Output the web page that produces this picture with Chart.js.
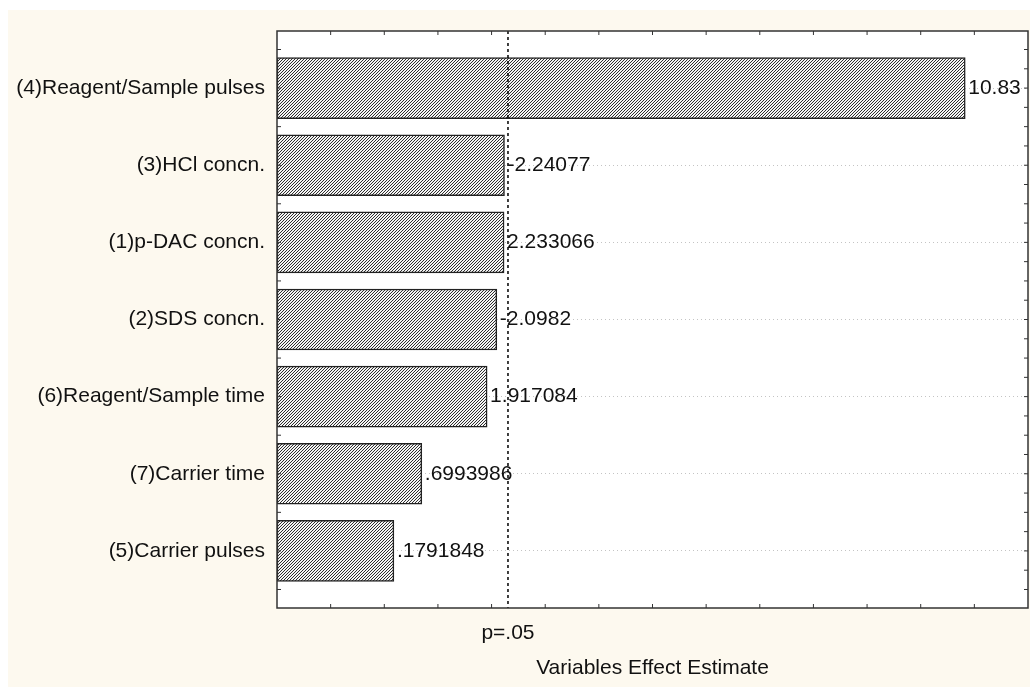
<!DOCTYPE html>
<html>
<head>
<meta charset="utf-8">
<script src="https://cdn.jsdelivr.net/npm/chart.js@4.4.0/dist/chart.umd.min.js"></script>
<style>
  html, body { margin: 0; padding: 0; background: #fff; }
  #wrap { width: 1030px; height: 687px; }
</style>
</head>
<body>
<div id="wrap"><canvas id="pareto" width="1030" height="687"></canvas></div>
<script>
// effects, sorted as in the Pareto chart
const factors = ['(4)Reagent/Sample pulses', '(3)HCl concn.', '(1)p-DAC concn.', '(2)SDS concn.',
                 '(6)Reagent/Sample time', '(7)Carrier time', '(5)Carrier pulses'];
const effects = [10.83, -2.24077, 2.233066, -2.0982, 1.917084, 0.6993986, 0.1791848];
const effectLabels = ['10.83', '-2.24077', '2.233066', '-2.0982', '1.917084', '.6993986', '.1791848'];
const pCrit = 2.306;      // p=.05 line
const xMin = -2;
const xMax = 12;

const FONT = "'Liberation Sans', Arial, sans-serif";
const FSIZE = 21;

// hatch pattern for the bars
function makeHatch() {
    const c = document.createElement('canvas');
    c.width = 3; c.height = 3;
    const g = c.getContext('2d');
    g.fillStyle = '#f4f4f4';
    g.fillRect(0, 0, 3, 3);
    g.strokeStyle = '#2e2e2e';
    g.lineWidth = 1;
    g.beginPath();
    g.moveTo(0, 3); g.lineTo(3, 0);
    g.moveTo(-1, 1); g.lineTo(1, -1);
    g.moveTo(2, 4); g.lineTo(4, 2);
    g.stroke();
    return g.createPattern(c, 'repeat');
}

const frame = {
    id: 'frame',
    beforeDraw(chart) {
        const { ctx, chartArea: a } = chart;
        ctx.save();
        ctx.fillStyle = '#fdf9ef';
        ctx.fillRect(8, 10, chart.width - 8, chart.height - 10);
        ctx.fillStyle = '#ffffff';
        ctx.fillRect(a.left, a.top, a.right - a.left, a.bottom - a.top);
        ctx.restore();
    },
    afterDatasetsDraw(chart) {
        const { ctx, chartArea: a } = chart;
        const xs = chart.scales.x, ys = chart.scales.y;
        ctx.save();

        // value labels at bar ends
        ctx.font = FSIZE + 'px ' + FONT;
        ctx.fillStyle = '#111';
        ctx.textBaseline = 'middle';
        ctx.textAlign = 'left';
        effects.forEach((v, i) => {
            ctx.fillText(effectLabels[i], xs.getPixelForValue(Math.abs(v)) + 3, ys.getPixelForValue(i));
        });

        // p=.05 dashed line
        const px = xs.getPixelForValue(pCrit);
        ctx.strokeStyle = '#000';
        ctx.lineWidth = 1.5;
        ctx.setLineDash([3, 3]);
        ctx.beginPath();
        ctx.moveTo(px, a.top);
        ctx.lineTo(px, a.bottom);
        ctx.stroke();
        ctx.setLineDash([]);

        // plot frame
        ctx.strokeStyle = '#333';
        ctx.lineWidth = 1.5;
        ctx.strokeRect(a.left, a.top, a.right - a.left, a.bottom - a.top);

        // inward ticks
        ctx.lineWidth = 1;
        ctx.beginPath();
        for (let v = Math.ceil(xMin) + 1; v < xMax; v++) {
            const x = xs.getPixelForValue(v);
            ctx.moveTo(x, a.top); ctx.lineTo(x, a.top + 4);
            ctx.moveTo(x, a.bottom); ctx.lineTo(x, a.bottom - 4);
        }
        for (let v = -0.5; v <= factors.length - 0.5; v += 0.5) {
            const y = ys.getPixelForValue(v);
            ctx.moveTo(a.left, y); ctx.lineTo(a.left + 4, y);
        }
        for (let v = -0.5; v <= factors.length - 0.5; v += 0.25) {
            const y = ys.getPixelForValue(v);
            ctx.moveTo(a.right, y); ctx.lineTo(a.right - 4, y);
        }
        ctx.stroke();

        // axis texts
        ctx.font = FSIZE + 'px ' + FONT;
        ctx.fillStyle = '#111';
        ctx.textAlign = 'center';
        ctx.fillText('p=.05', px, a.bottom + 25);
        ctx.fillText('Variables Effect Estimate', (a.left + a.right) / 2, a.bottom + 60);
        ctx.restore();
    }
};

const ctx = document.getElementById('pareto').getContext('2d');
new Chart(ctx, {
    type: 'bar',
    data: {
        datasets: [{
            data: effects.map((v, i) => ({ y: i, x: [xMin, Math.abs(v)] })),
            backgroundColor: makeHatch(),
            borderColor: '#222',
            borderWidth: 1.5,
            borderSkipped: false,
            barThickness: 61
        }]
    },
    options: {
        indexAxis: 'y',
        responsive: false,
        animation: false,
        layout: { padding: { left: 0, top: 31, right: 2, bottom: 79 } },
        plugins: { legend: { display: false }, tooltip: { enabled: false } },
        scales: {
            x: {
                type: 'linear',
                min: xMin,
                max: xMax,
                display: false
            },
            y: {
                type: 'linear',
                reverse: true,
                offset: false,
                min: -0.74,
                max: factors.length - 1 + 0.74,
                afterBuildTicks: s => { s.ticks = factors.map((f, i) => ({ value: i })); },
                afterFit: s => { s.width = 277; },
                ticks: {
                    callback: v => factors[v] || '',
                    font: { family: FONT, size: FSIZE },
                    color: '#111',
                    padding: 12
                },
                grid: { offset: false, color: '#c4c4c4', drawTicks: false, lineWidth: 1 },
                border: { display: false, dash: [1, 3] }
            }
        }
    },
    plugins: [frame]
});
</script>
</body>
</html>
